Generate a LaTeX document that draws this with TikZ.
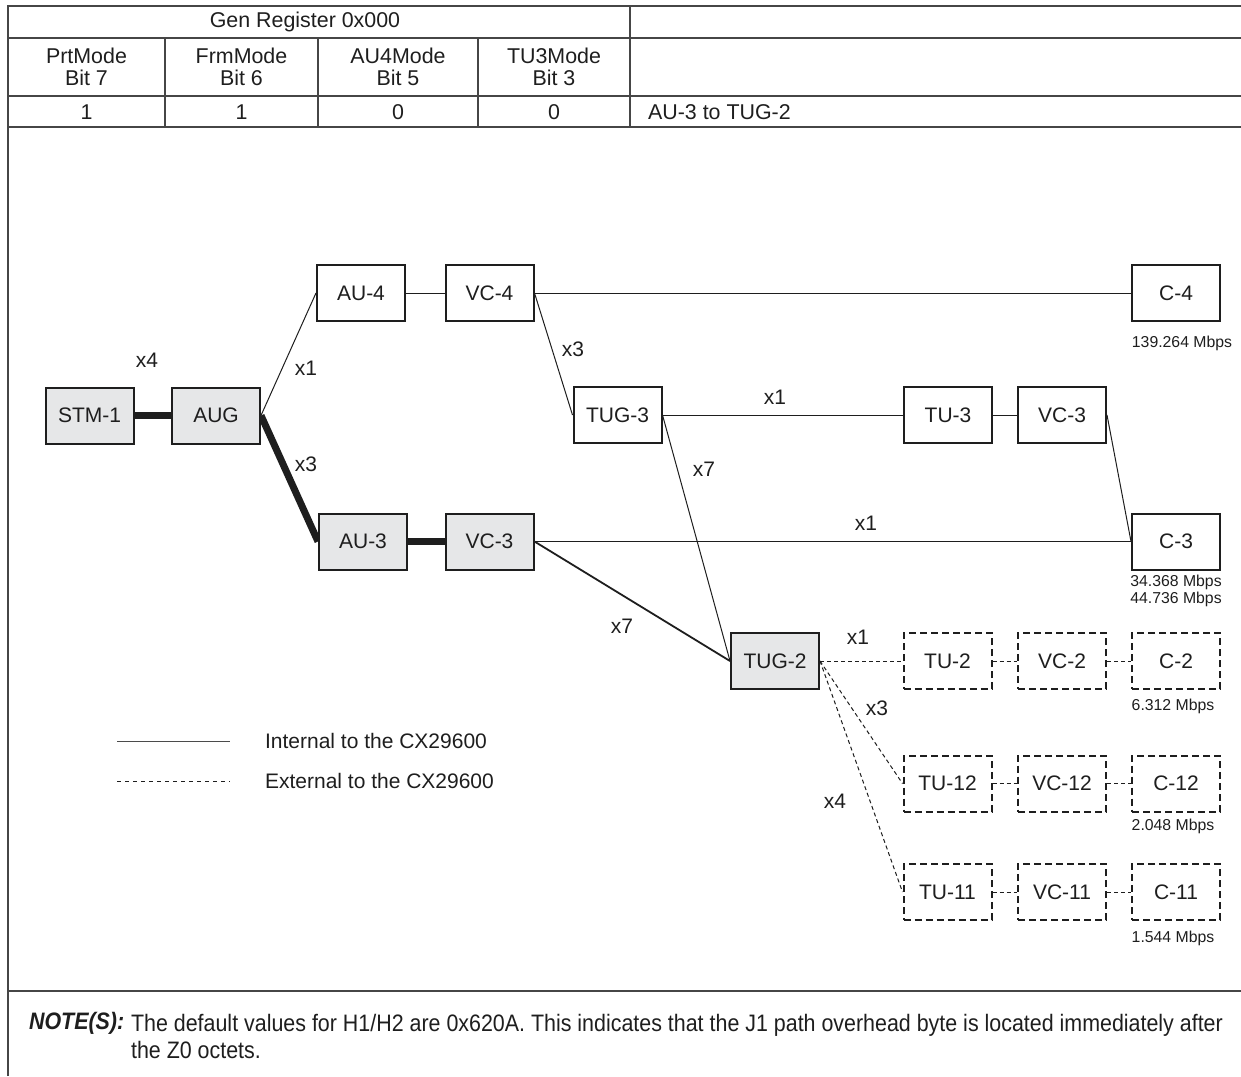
\documentclass[tikz,border=0pt]{standalone}
\usepackage{fontspec}
\setmainfont{Liberation Sans}
\newfontfamily\narrowfont[FakeStretch=0.9]{Liberation Sans}
\usepackage{tikz}
\usetikzlibrary{positioning, backgrounds}
\definecolor{sdhGray}{RGB}{230, 231, 232}
\definecolor{sdhRule}{RGB}{70, 70, 70}
\definecolor{sdhInk}{RGB}{30, 30, 30}
\tikzset{
    base/.style={
        font=\fontsize{10.5}{12}\selectfont,
        text=sdhInk
    },
    block/.style={
        base,
        rectangle,
        draw=sdhInk,
        line width=1pt,
        fill=white,
        minimum width=44pt,
        minimum height=28pt,
        inner sep=0pt
    },
    shaded/.style={
        block,
        fill=sdhGray
    },
    extblock/.style={
        block,
        dash pattern=on 3.5pt off 2pt
    },
    link/.style={
        draw=sdhInk,
        line width=0.5pt
    },
    trunk/.style={
        draw=sdhInk,
        line width=3.5pt
    },
    extlink/.style={
        draw=sdhInk,
        line width=0.5pt,
        dash pattern=on 2pt off 1.5pt
    },
    mult/.style={
        base
    },
    rate/.style={
        base,
        font=\fontsize{7.9}{7}\selectfont,
        align=center
    },
    cell/.style={
        font=\fontsize{10.7}{11}\selectfont,
        text=sdhInk,
        align=center
    },
    note/.style={
        font=\narrowfont\fontsize{11.9}{13.5}\selectfont,
        text=sdhInk,
        anchor=west,
        align=left
    },
    rule/.style={
        draw=sdhRule,
        line width=1pt
    }
}

\begin{document}
\begin{tikzpicture}[x=0.5pt, y=-0.5pt]
  \useasboundingbox (0,0) rectangle (1241,1076);

  % Register table
  \draw[rule] (8,1076) -- (8,6) -- (1241,6);
  \foreach \y in {38, 96, 127, 991} {
    \draw[rule] (8,\y) -- (1241,\y);
  }
  \draw[rule] (630,6) -- (630,127);
  \foreach \x in {165, 318, 478} {
    \draw[rule] (\x,38) -- (\x,127);
  }
  \node[cell] (gen) at (305,22) {Gen Register 0x000};
  \foreach \x/\fld/\bit/\val in {86.5/PrtMode/7/1, 241.5/FrmMode/6/1, 398/AU4Mode/5/0, 554/TU3Mode/3/0} {
    \node[cell] (mode-\bit) at (\x,67) {\fld\\Bit \bit};
    \node[cell] (val-\bit) at (\x,112) {\val};
  }
  \node[cell, anchor=west] (mapping) at (641,112) {AU-3 to TUG-2};

  % Internal blocks
  \node[shaded] (stm) at (89.5,415.5) {STM-1};
  \node[shaded] (aug) at (216,415.5) {AUG};
  \node[block] (au4) at (361,293) {AU-4};
  \node[block] (vc4) at (489.5,293) {VC-4};
  \node[block] (c4) at (1176,293) {C-4};
  \node[block] (tug3) at (617.5,415) {TUG-3};
  \node[block] (tu3) at (948,415) {TU-3};
  \node[block] (vc3a) at (1062,415) {VC-3};
  \node[shaded] (au3) at (363,541.5) {AU-3};
  \node[shaded] (vc3b) at (489.5,541.5) {VC-3};
  \node[block] (c3) at (1176,541.5) {C-3};
  \node[shaded] (tug2) at (775,661) {TUG-2};

  % External blocks
  \foreach \y/\n in {661/2, 783.5/12, 892/11} {
    \node[extblock] (tu\n) at (947.5,\y) {TU-\n};
    \node[extblock] (vc\n) at (1062,\y) {VC-\n};
    \node[extblock] (c\n) at (1176,\y) {C-\n};
  }

  % Rates
  \node[rate] (r4) at (1182,343) {139.264 Mbps};
  \node[rate] (r3) at (1176,591) {34.368 Mbps\\44.736 Mbps};
  \node[rate] (r2) at (1173,706) {6.312 Mbps};
  \node[rate] (r12) at (1173,826) {2.048 Mbps};
  \node[rate] (r11) at (1173,938) {1.544 Mbps};

  % Connectors
  \begin{scope}[on background layer]
    \draw[trunk] (stm) -- (aug);
    \draw[trunk] (aug.east) -- (au3.west);
    \draw[trunk] (au3) -- (vc3b);
    \draw[link] (aug.east) -- (au4.west);
    \draw[link] (au4) -- (vc4);
    \draw[link] (vc4.east) -- (c4.west);
    \draw[link] (vc4.east) -- (tug3.west);
    \draw[link] (tug3.east) -- (tu3.west);
    \draw[link] (tu3) -- (vc3a);
    \draw[link] (vc3a.east) -- (c3.west);
    \draw[link] (vc3b.east) -- (c3.west);
    \draw[link] (tug3.east) -- (tug2.west);
    \draw[link, line width=0.9pt] (vc3b.east) -- (tug2.west);
    \draw[extlink] (tug2.east) -- (tu2.west);
    \draw[extlink] (tug2.east) -- (tu12.west);
    \draw[extlink] (tug2.east) -- (tu11.west);
    \foreach \n in {2, 12, 11} {
      \draw[extlink] (tu\n) -- (vc\n);
      \draw[extlink] (vc\n) -- (c\n);
    }
  \end{scope}

  % Multiplex factors
  \node[mult] (m-stm) at (147,360) {x4};
  \node[mult] (m-au4) at (306,368) {x1};
  \node[mult] (m-au3) at (306,464) {x3};
  \node[mult] (m-tug3) at (573,349) {x3};
  \node[mult] (m-tu3) at (775,397) {x1};
  \node[mult] (m-tug3b) at (704,469) {x7};
  \node[mult] (m-c3) at (866,523) {x1};
  \node[mult] (m-vc3) at (622,626) {x7};
  \node[mult] (m-tu2) at (858,637) {x1};
  \node[mult] (m-tu12) at (877,708) {x3};
  \node[mult] (m-tu11) at (835,801) {x4};

  % Legend
  \coordinate (li-a) at (117,741);
  \coordinate (li-b) at (230,741);
  \coordinate (le-a) at (117,781);
  \coordinate (le-b) at (230,781);
  \draw[link, draw=sdhInk!80] (li-a) -- (li-b);
  \draw[extlink, dash pattern=on 2pt off 2pt] (le-a) -- (le-b);
  \node[base, anchor=west] (internal) at (258,741) {Internal to the CX29600};
  \node[base, anchor=west] (external) at (258,781) {External to the CX29600};

  % Note
  \node[note, font=\narrowfont\fontsize{11.9}{13.5}\selectfont\bfseries\itshape] (notehead) at (22,1023) {NOTE(S):};
  \node[note] (notetext) at (124,1036)
    {The default values for H1/H2 are 0x620A. This indicates that the J1 path overhead byte is located immediately after\\the Z0 octets.};
\end{tikzpicture}
\end{document}
